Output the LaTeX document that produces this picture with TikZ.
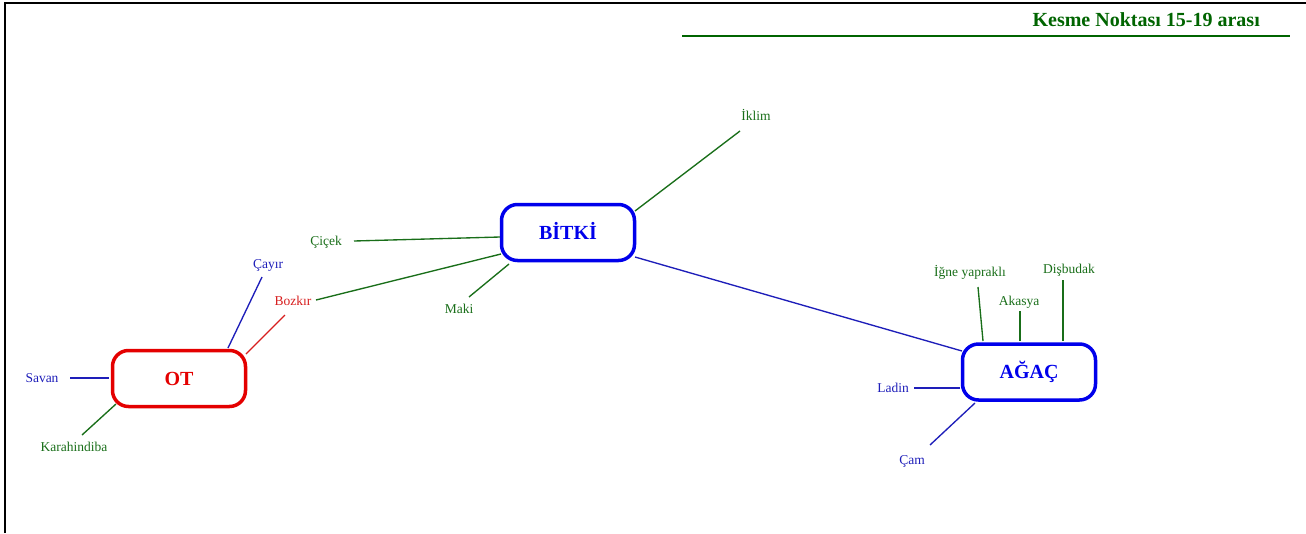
\documentclass[tikz,border=0pt]{standalone}
\usepackage{fontspec}
\setmainfont{Liberation Serif}
\definecolor{titlegreen}{RGB}{0,100,0}
\definecolor{leafgreen}{RGB}{25,110,25}
\definecolor{leafblue}{RGB}{30,30,185}
\definecolor{hubblue}{RGB}{0,0,235}
\definecolor{hubred}{RGB}{228,0,0}
\definecolor{leafred}{RGB}{215,30,30}
\begin{document}
\begin{tikzpicture}[x=1pt,y=-1pt,
  hub/.style={draw, line width=3.5pt, rounded corners=16pt,
    minimum width=133pt, minimum height=56pt, inner sep=0pt,
    text height=13pt, text depth=0pt,
    font=\bfseries\fontsize{20}{24}\selectfont},
  leaf/.style={inner sep=0pt, anchor=base, font=\fontsize{13.5}{16}\selectfont},
  link/.style={line width=1.35pt}
]
\useasboundingbox (0,0) rectangle (1306,533);

% frame along the top and left edges
\draw[line width=2.2pt] (5,533) -- (5,3) -- (1306,3);

% heading with its rule
\node[anchor=base east, inner sep=0pt, text=titlegreen,
      font=\bfseries\fontsize{20}{24}\selectfont] (title) at (1260,26) {Kesme Noktası 15-19 arası};
\coordinate (ruleL) at (682,36);
\coordinate (ruleR) at (1290,36);
\draw[titlegreen, line width=1.8pt] (ruleL) -- (ruleR);

% main concepts
\node[hub, draw=hubblue, text=hubblue] (bitki) at (568,232.5) {BİTKİ};
\node[hub, draw=hubred, text=hubred]   (ot)    at (179,378.5) {OT};
\node[hub, draw=hubblue, text=hubblue] (agac)  at (1029,372)  {AĞAÇ};

% leaf labels
\node[leaf, text=leafgreen] (iklim)  at (756,120.5) {İklim};
\node[leaf, text=leafgreen] (cicek)  at (326,245.5) {Çiçek};
\node[leaf, text=leafred]   (bozkir) at (293,305.5) {Bozkır};
\node[leaf, text=leafgreen] (maki)   at (459,313)   {Maki};
\node[leaf, text=leafblue]  (cayir)  at (268,268.5) {Çayır};
\node[leaf, text=leafblue]  (savan)  at (42,382.5)  {Savan};
\node[leaf, text=leafgreen] (kara)   at (74,451.5)  {Karahindiba};
\node[leaf, text=leafgreen] (igne)   at (970,276.5) {İğne yapraklı};
\node[leaf, text=leafgreen] (akasya) at (1019,305)  {Akasya};
\node[leaf, text=leafgreen] (disbu)  at (1069,273)  {Dişbudak};
\node[leaf, text=leafblue]  (ladin)  at (893,392.5) {Ladin};
\node[leaf, text=leafblue]  (cam)    at (912,464)   {Çam};

% connector ends next to the labels
\coordinate (iklimE)  at (740,131);
\coordinate (cicekE)  at (354,241);
\coordinate (bozkirE) at (316,300);
\coordinate (bozkirO) at (285,315);
\coordinate (makiE)   at (469,297);
\coordinate (cayirE)  at (262,277);
\coordinate (savanE)  at (70,378);
\coordinate (karaE)   at (82,435);
\coordinate (igneE)   at (978,287);
\coordinate (akasyaE) at (1020,311);
\coordinate (disbuE)  at (1063,280);
\coordinate (ladinE)  at (914,388);
\coordinate (camE)    at (930,445);

% connector ends on the main concepts
\coordinate (b1) at (635,211);
\coordinate (b2) at (500,237);
\coordinate (b3) at (501,254);
\coordinate (b4) at (509,264);
\coordinate (b5) at (635,257);
\coordinate (o1) at (228,348);
\coordinate (o2) at (246,354);
\coordinate (o3) at (109,378);
\coordinate (o4) at (116,404);
\coordinate (a0) at (962,351);
\coordinate (a1) at (983,341);
\coordinate (a2) at (1020,341);
\coordinate (a3) at (1063,341);
\coordinate (a4) at (960,388);
\coordinate (a5) at (975,403);

% connectors of BİTKİ
\draw[link, leafgreen] (b1) -- (iklimE);
\draw[link, leafgreen] (b2) -- (cicekE);
\draw[link, leafgreen] (b3) -- (bozkirE);
\draw[link, leafgreen] (b4) -- (makiE);
\draw[link, leafblue]  (b5) -- (a0);

% connectors of OT
\draw[link, leafblue]  (o1) -- (cayirE);
\draw[link, leafred]   (o2) -- (bozkirO);
\draw[link, leafblue]  (o3) -- (savanE);
\draw[link, leafgreen] (o4) -- (karaE);

% connectors of AĞAÇ
\draw[link, leafgreen] (a1) -- (igneE);
\draw[link, leafgreen] (a2) -- (akasyaE);
\draw[link, leafgreen] (a3) -- (disbuE);
\draw[link, leafblue]  (a4) -- (ladinE);
\draw[link, leafblue]  (a5) -- (camE);
\end{tikzpicture}
\end{document}
